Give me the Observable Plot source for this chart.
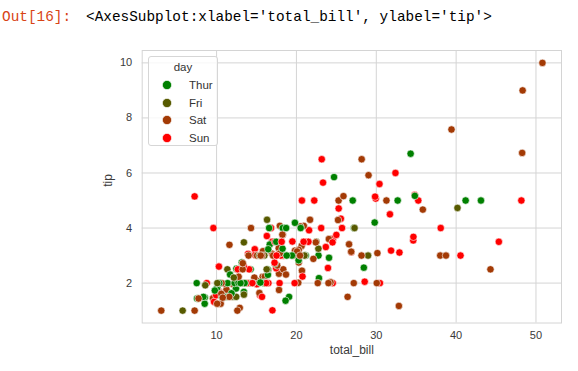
<!DOCTYPE html>
<html>
<head>
<meta charset="utf-8">
<script src="https://cdn.jsdelivr.net/npm/d3@7"></script>
<script src="https://cdn.jsdelivr.net/npm/@observablehq/plot@0.6"></script>
<style>
  html, body { margin: 0; padding: 0; background: #fff; }
  #wrap { position: relative; width: 578px; height: 371px; overflow: hidden; background: #fff; }
  #out { position: absolute; top: 10px; left: 0; width: 578px; height: 20px; font-family: "Liberation Mono", "DejaVu Sans Mono", monospace; font-size: 14.4px; line-height: 14.4px; white-space: pre; }
  #out .prompt { position: absolute; left: 2px; top: 0; color: #D84315; }
  #out .repr { position: absolute; left: 86px; top: 0; color: #000; }
  #chart { position: absolute; left: 0; top: 0; }
  #legend { position: absolute; left: 148px; top: 56px; width: 70px; height: 90px; box-sizing: border-box; border: 1px solid #d6d6d6; border-radius: 3px; background: rgba(255,255,255,0.8); font-family: "Liberation Sans", Arial, sans-serif; font-size: 11.5px; color: #333; }
  #legend .title { position: absolute; left: 0; width: 100%; top: 4px; text-align: center; }
  #legend .item { position: absolute; left: 0; width: 100%; height: 14px; }
  #legend .item svg { position: absolute; left: 12px; top: 1px; }
  #legend .item span { position: absolute; left: 40px; top: 0; line-height: 14px; }
</style>
</head>
<body>
<div id="wrap">
  <div id="chart"></div>
  <div id="out"><span class="prompt">Out[16]:</span><span class="repr">&lt;AxesSubplot:xlabel='total_bill', ylabel='tip'&gt;</span></div>
  <div id="legend"></div>
</div>
<script>
// tips dataset
const totalBill = [
  16.99,10.34,21.01,23.68,24.59,25.29,8.77,26.88,15.04,14.78,
  10.27,35.26,15.42,18.43,14.83,21.58,10.33,16.29,16.97,20.65,
  17.92,20.29,15.77,39.42,19.82,17.81,13.37,12.69,21.7,19.65,
  9.55,18.35,15.06,20.69,17.78,24.06,16.31,16.93,18.69,31.27,
  16.04,17.46,13.94,9.68,30.4,18.29,22.23,32.4,28.55,18.04,
  12.54,10.29,34.81,9.94,25.56,19.49,38.01,26.41,11.24,48.27,
  20.29,13.81,11.02,18.29,17.59,20.08,16.45,3.07,20.23,15.01,
  12.02,17.07,26.86,25.28,14.73,10.51,17.92,27.2,22.76,17.29,
  19.44,16.66,10.07,32.68,15.98,34.83,13.03,18.28,24.71,21.16,
  28.97,22.49,5.75,16.32,22.75,40.17,27.28,12.03,21.01,12.46,
  11.35,15.38,44.3,22.42,20.92,15.36,20.49,25.21,18.24,14.31,
  14.0,7.25,38.07,23.95,25.71,17.31,29.93,10.65,12.43,24.08,
  11.69,13.42,14.26,15.95,12.48,29.8,8.52,14.52,11.38,22.82,
  19.08,20.27,11.17,12.26,18.26,8.51,10.33,14.15,16.0,13.16,
  17.47,34.3,41.19,27.05,16.43,8.35,18.64,11.87,9.78,7.51,
  14.07,13.13,17.26,24.55,19.77,29.85,48.17,25.0,13.39,16.49,
  21.5,12.66,16.21,13.81,17.51,24.52,20.76,31.71,10.59,10.63,
  50.81,15.81,7.25,31.85,16.82,32.9,17.89,14.48,9.6,34.63,
  34.65,23.33,45.35,23.17,40.55,20.69,20.9,30.46,18.15,23.1,
  15.69,19.81,28.44,15.48,16.58,7.56,10.34,43.11,13.0,13.51,
  18.71,12.74,13.0,16.4,20.53,16.47,26.59,38.73,24.27,12.76,
  30.06,25.89,48.33,13.27,28.17,12.9,28.15,11.59,7.74,30.14,
  12.16,13.42,8.58,15.98,13.42,16.27,10.09,20.45,13.28,22.12,
  24.01,15.69,11.61,10.77,15.53,10.07,12.6,32.83,35.83,29.03,
  27.18,22.67,17.82,18.78
];
const tip = [
  1.01,1.66,3.5,3.31,3.61,4.71,2.0,3.12,1.96,3.23,
  1.71,5.0,1.57,3.0,3.02,3.92,1.67,3.71,3.5,3.35,
  4.08,2.75,2.23,7.58,3.18,2.34,2.0,2.0,4.3,3.0,
  1.45,2.5,3.0,2.45,3.27,3.6,2.0,3.07,2.31,5.0,
  2.24,2.54,3.06,1.32,5.6,3.0,5.0,6.0,2.05,3.0,
  2.5,2.6,5.2,1.56,4.34,3.51,3.0,1.5,1.76,6.73,
  3.21,2.0,1.98,3.76,2.64,3.15,2.47,1.0,2.01,2.09,
  1.97,3.0,3.14,5.0,2.2,1.25,3.08,4.0,3.0,2.71,
  3.0,3.4,1.83,5.0,2.03,5.17,2.0,4.0,5.85,3.0,
  3.0,3.5,1.0,4.3,3.25,4.73,4.0,1.5,3.0,1.5,
  2.5,3.0,2.5,3.48,4.08,1.64,4.06,4.29,3.76,4.0,
  3.0,1.0,4.0,2.55,4.0,3.5,5.07,1.5,1.8,2.92,
  2.31,1.68,2.5,2.0,2.52,4.2,1.48,2.0,2.0,2.18,
  1.5,2.83,1.5,2.0,3.25,1.25,2.0,2.0,2.0,2.75,
  3.5,6.7,5.0,5.0,2.3,1.5,1.36,1.63,1.73,2.0,
  2.5,2.0,2.74,2.0,2.0,5.14,5.0,3.75,2.61,2.0,
  3.5,2.5,2.0,2.0,3.0,3.48,2.24,4.5,1.61,2.0,
  10.0,3.16,5.15,3.18,4.0,3.11,2.0,2.0,4.0,3.55,
  3.68,5.65,3.5,6.5,3.0,5.0,3.5,2.0,3.5,4.0,
  1.5,4.19,2.56,2.02,4.0,1.44,2.0,5.0,2.0,2.0,
  4.0,2.01,2.0,2.5,4.0,3.23,3.41,3.0,2.03,2.23,
  2.0,5.16,9.0,2.5,6.5,1.1,3.0,1.5,1.44,3.09,
  2.2,3.48,1.92,3.0,1.58,2.5,2.0,3.0,2.72,2.88,
  2.0,3.0,3.39,1.47,3.0,1.25,1.0,1.17,4.67,5.92,
  2.0,2.0,1.75,3.0
];
const day = [
  "Sun","Sun","Sun","Sun","Sun","Sun","Sun","Sun","Sun","Sun",
  "Sun","Sun","Sun","Sun","Sun","Sun","Sun","Sun","Sun","Sat",
  "Sat","Sat","Sat","Sat","Sat","Sat","Sat","Sat","Sat","Sat",
  "Sat","Sat","Sat","Sat","Sat","Sat","Sat","Sat","Sat","Sat",
  "Sat","Sun","Sun","Sun","Sun","Sun","Sun","Sun","Sun","Sun",
  "Sun","Sun","Sun","Sun","Sun","Sun","Sat","Sat","Sat","Sat",
  "Sat","Sat","Sat","Sat","Sat","Sat","Sat","Sat","Sat","Sat",
  "Sat","Sat","Sat","Sat","Sat","Sat","Sat","Thur","Thur","Thur",
  "Thur","Thur","Thur","Thur","Thur","Thur","Thur","Thur","Thur","Thur",
  "Fri","Fri","Fri","Fri","Fri","Fri","Fri","Fri","Fri","Fri",
  "Fri","Fri","Sat","Sat","Sat","Sat","Sat","Sat","Sat","Sat",
  "Sat","Sat","Sun","Sun","Sun","Sun","Sun","Thur","Thur","Thur",
  "Thur","Thur","Thur","Thur","Thur","Thur","Thur","Thur","Thur","Thur",
  "Thur","Thur","Thur","Thur","Thur","Thur","Thur","Thur","Thur","Thur",
  "Thur","Thur","Thur","Thur","Thur","Thur","Thur","Thur","Thur","Thur",
  "Sun","Sun","Sun","Sun","Sun","Sun","Sun","Sun","Sun","Sun",
  "Sun","Sun","Sun","Sun","Sun","Sun","Sun","Sun","Sat","Sat",
  "Sat","Sat","Sun","Sun","Sun","Sun","Sun","Sun","Sun","Sun",
  "Sun","Sun","Sun","Sun","Sun","Sun","Sun","Sun","Sun","Sun",
  "Sun","Thur","Thur","Thur","Thur","Thur","Thur","Thur","Thur","Thur",
  "Thur","Thur","Thur","Thur","Thur","Thur","Sat","Sat","Sat","Sat",
  "Sat","Sat","Sat","Sat","Sat","Sat","Sat","Sat","Sat","Sat",
  "Fri","Fri","Fri","Fri","Fri","Fri","Fri","Sat","Sat","Sat",
  "Sat","Sat","Sat","Sat","Sat","Sat","Sat","Sat","Sat","Sat",
  "Sat","Sat","Sat","Thur"
];
const dayOrder = ["Thur", "Fri", "Sat", "Sun"];
const dayColors = ["#008000", "#575a00", "#a33a05", "#ff0000"];
const xTicks = [10, 20, 30, 40, 50];
const yTicks = [2, 4, 6, 8, 10];
const xLabel = "total_bill";
const yLabel = "tip";
const legendTitle = "day";

const data = totalBill.map((b, i) => ({ total_bill: b, tip: tip[i], day: day[i] }));

// matplotlib-style 5% margins
const xExt = d3.extent(totalBill), yExt = d3.extent(tip);
const xPad = (xExt[1] - xExt[0]) * 0.05, yPad = (yExt[1] - yExt[0]) * 0.05;

const gridColor = "#d4d4d4";
const chart = Plot.plot({
  width: 578,
  height: 371,
  marginLeft: 141.7,
  marginRight: 17,
  marginTop: 50,
  marginBottom: 48.5,
  style: { fontFamily: "'Liberation Sans', Arial, sans-serif", fontSize: "11px", color: "#3a3a3a", background: "transparent" },
  x: { domain: [xExt[0] - xPad, xExt[1] + xPad] },
  y: { domain: [yExt[0] - yPad, yExt[1] + yPad] },
  color: { domain: dayOrder, range: dayColors },
  marks: [
    Plot.gridX(xTicks, { stroke: gridColor, strokeOpacity: 1, strokeWidth: 1 }),
    Plot.gridY(yTicks, { stroke: gridColor, strokeOpacity: 1, strokeWidth: 1 }),
    Plot.frame({ stroke: gridColor, strokeWidth: 1 }),
    Plot.axisX(xTicks, { tickSize: 0, tickPadding: 8, label: null, fontSize: 11 }),
    Plot.axisY(yTicks, { tickSize: 0, tickPadding: 10, label: null, fontSize: 11 }),
    Plot.text([xLabel], { frameAnchor: "bottom", dy: 31, fontSize: 12, fill: "#3a3a3a" }),
    Plot.text([yLabel], { frameAnchor: "left", dx: -34.5, rotate: -90, fontSize: 12, fill: "#3a3a3a" }),
    Plot.dot(data, { x: "total_bill", y: "tip", fill: "day", r: 3.7, stroke: "white", strokeWidth: 0.6 })
  ]
});
document.getElementById("chart").appendChild(chart);

// legend (inside the axes, upper left)
const legend = document.getElementById("legend");
const t = document.createElement("div");
t.className = "title";
t.textContent = legendTitle;
legend.appendChild(t);
dayOrder.forEach((d, i) => {
  const item = document.createElement("div");
  item.className = "item";
  item.style.top = (21 + i * 17.6) + "px";
  item.innerHTML = `<svg width="12" height="12"><circle cx="6" cy="6" r="4.6" fill="${dayColors[i]}" stroke="white" stroke-width="0.6"></circle></svg><span>${d}</span>`;
  legend.appendChild(item);
});
</script>
</body>
</html>
